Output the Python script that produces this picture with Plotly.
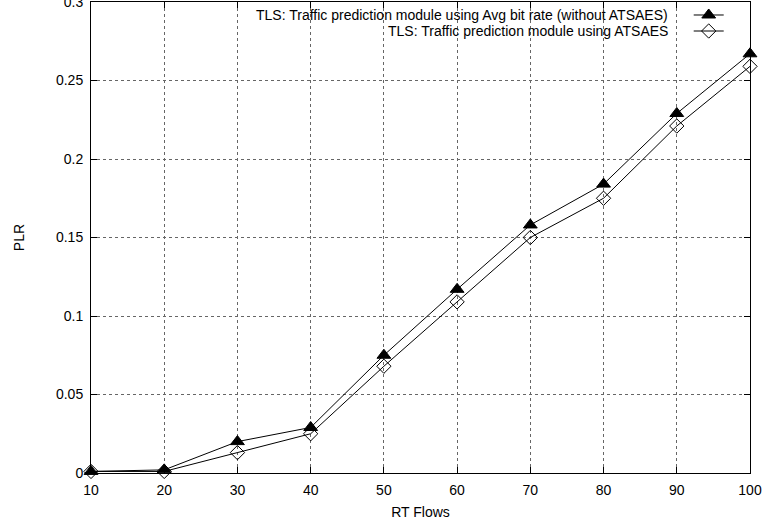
import plotly.graph_objects as go

# RT flow counts on the x axis
rt_flows = [10, 20, 30, 40, 50, 60, 70, 80, 90, 100]

# Packet loss ratio for each traffic prediction module
plr_avg_bitrate = [0.001, 0.002, 0.020, 0.029, 0.075, 0.117, 0.158, 0.184, 0.229, 0.267]
plr_atsaes = [0.001, 0.001, 0.013, 0.025, 0.068, 0.109, 0.150, 0.175, 0.221, 0.259]

series_labels = [
    "TLS: Traffic prediction module using Avg bit rate (without ATSAES)",
    "TLS: Traffic prediction module using ATSAES",
]

x_ticks = [10, 20, 30, 40, 50, 60, 70, 80, 90, 100]
y_ticks = [0, 0.05, 0.1, 0.15, 0.2, 0.25, 0.3]
y_tick_text = ["0", "0.05", "0.1", "0.15", "0.2", "0.25", "0.3"]

FONT = "Liberation Sans, Arial, Helvetica, sans-serif"

# vertical position (paper units) of each key row
key_rows = [0.9724, 0.9384]

fig = go.Figure()

fig.add_trace(go.Scatter(
    x=rt_flows, y=plr_avg_bitrate, mode="lines+markers", name=" ",
    line=dict(color="black", width=1),
    marker=dict(symbol="triangle-up", size=12, color="black",
                line=dict(color="black", width=1)),
    cliponaxis=False, legend="legend",
))
fig.add_trace(go.Scatter(
    x=rt_flows, y=plr_atsaes, mode="lines+markers", name=" ",
    line=dict(color="black", width=1),
    marker=dict(symbol="diamond-open", size=11, color="black",
                line=dict(color="black", width=1)),
    cliponaxis=False, legend="legend2",
))

# opaque key box over the grid at the top of the plot
fig.add_shape(type="rect", xref="paper", yref="paper",
              x0=0.002, x1=0.998, y0=0.918, y1=0.997,
              fillcolor="white", line=dict(width=0), layer="between")

# key text, right aligned next to the line samples
for label, ky in zip(series_labels, key_rows):
    fig.add_annotation(
        text=label, xref="paper", yref="paper",
        x=0.8786, y=ky, xanchor="right", yanchor="middle",
        showarrow=False, font=dict(family=FONT, size=14, color="black"),
    )

axis_common = dict(
    showline=True, linecolor="black", linewidth=1, mirror="ticks",
    ticks="inside", ticklen=6, tickcolor="black", tickwidth=1,
    showgrid=True, gridcolor="#666666", gridwidth=1, griddash="dot",
    zeroline=False, ticklabeloverflow="allow", automargin=False,
    tickfont=dict(family=FONT, size=14, color="black"),
)

fig.update_xaxes(
    range=[10, 100], tickvals=x_ticks, ticktext=[str(v) for v in x_ticks],
    title=dict(text="RT Flows", font=dict(family=FONT, size=14, color="black"),
               standoff=10),
    ticklabelstandoff=4,
    **axis_common,
)
fig.update_yaxes(
    range=[0, 0.3], tickvals=y_ticks, ticktext=y_tick_text,
    title=dict(text="PLR", font=dict(family=FONT, size=14, color="black"),
               standoff=28),
    ticklabelstandoff=4,
    **axis_common,
)

key_style = dict(
    x=0.907, xanchor="left", yanchor="middle",
    bgcolor="rgba(0,0,0,0)", borderwidth=0,
    font=dict(family=FONT, size=9), itemsizing="trace", itemwidth=30,
)

fig.update_layout(
    width=765, height=528,
    margin=dict(l=91, r=15, t=2, b=55, autoexpand=False),
    plot_bgcolor="white", paper_bgcolor="white",
    font=dict(family=FONT, color="black"),
    showlegend=True,
    legend=dict(y=key_rows[0], **key_style),
    legend2=dict(y=key_rows[1], **key_style),
)

fig.write_html("out.html")
